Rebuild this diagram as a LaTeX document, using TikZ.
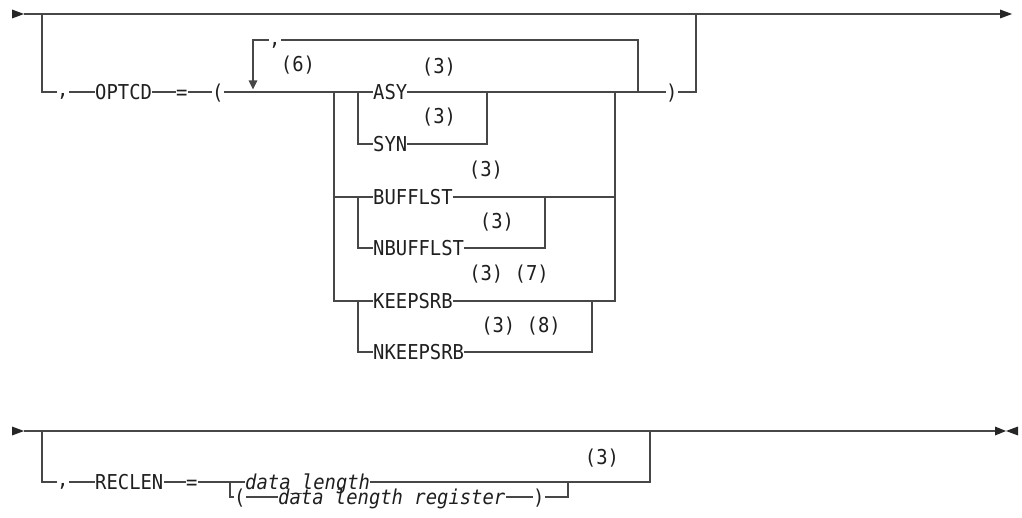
\documentclass[tikz,border=0pt]{standalone}
\usepackage{fontspec}
\newfontfamily\mono[FakeStretch=0.92]{DejaVu Sans Mono}
\usetikzlibrary{arrows.meta}
\begin{document}
\begin{tikzpicture}[x=1pt,y=-1pt,
  rr/.style={draw=black!72,line width=1.1pt},
  tip/.style={fill=black!85},
  kw/.style={anchor=west,inner sep=0pt,text height=15pt,text depth=0pt,text=black!88,font={\mono\fontsize{20.5pt}{22pt}\selectfont}},
  var/.style={kw,font={\mono\itshape\fontsize{20.5pt}{22pt}\selectfont}},
  note/.style={anchor=center,inner sep=0pt,text=black!88,font={\mono\fontsize{20.5pt}{22pt}\selectfont}}]
\useasboundingbox (0,0) rectangle (1022,518);

% ---------- top diagram ----------
\coordinate (s1) at (24,14);
\coordinate (e1) at (1000,14);
\fill[tip] (12,9.5) -- (s1) -- (12,18.5) -- cycle;
\fill[tip] (e1 |- 0,9.5) -- (1012,14) -- (e1 |- 0,18.5) -- cycle;
\draw[rr] (s1) -- (e1);

\coordinate (j1) at (42,14);
\coordinate (j2) at (42,92);
\node[kw] (c1) at (57,89) {,};
\node[kw] (optcd) at (95,92) {OPTCD};
\node[kw] (eq1) at (176,92) {=};
\node[kw] (lp) at (212,92) {(};
\coordinate (ll) at (253,92);
\coordinate (llt) at (253,40);
\coordinate (v1) at (334,92);
\coordinate (v2) at (358,92);
\node[kw] (asy) at (373,92) {ASY};
\coordinate (r1) at (487,92);
\coordinate (r2) at (615,92);
\coordinate (lr) at (638,92);
\coordinate (lrt) at (638,40);
\node[kw] (rp) at (666,92) {)};
\coordinate (r3) at (696,92);
\coordinate (r3t) at (696,14);
\node[kw] (c2) at (269,38) {,};

\draw[rr] (j1) -- (j2) -- (j2 -| c1.west);
\draw[rr] (j2 -| c1.east) -- (optcd.west);
\draw[rr] (optcd.east) -- (eq1.west);
\draw[rr] (eq1.east) -- (lp.west);
\draw[rr] (lp.east) -- (ll) -- (v1) -- (v2) -- (asy.west);
\draw[rr] (asy.east) -- (r1) -- (r2) -- (lr) -- (rp.west);
\draw[rr] (rp.east) -- (r3) -- (r3t);
% repeat loop
\draw[rr] (lr) -- (lrt) -- (lrt -| c2.east);
\draw[rr,-{Triangle[length=9pt,width=8.5pt]},shorten >=2.5pt] (lrt -| c2.west) -- (llt) -- (ll);

% SYN
\coordinate (syl) at (358,144);
\coordinate (syr) at (487,144);
\node[kw] (syn) at (373,144) {SYN};
\draw[rr] (v2) -- (syl) -- (syn.west);
\draw[rr] (syn.east) -- (syr) -- (r1);

% BUFFLST / NBUFFLST
\coordinate (b0) at (334,197);
\coordinate (b1) at (358,197);
\coordinate (b2) at (358,248);
\coordinate (b3) at (545,197);
\coordinate (b4) at (545,248);
\coordinate (b5) at (615,197);
\node[kw] (buf) at (373,197) {BUFFLST};
\node[kw] (nbuf) at (373,248) {NBUFFLST};
\draw[rr] (b0) -- (b1) -- (buf.west);
\draw[rr] (buf.east) -- (b3) -- (b5);
\draw[rr] (b1) -- (b2) -- (nbuf.west);
\draw[rr] (nbuf.east) -- (b4) -- (b3);

% KEEPSRB / NKEEPSRB
\coordinate (k0) at (334,301);
\coordinate (k1) at (358,301);
\coordinate (k2) at (358,352);
\coordinate (k3) at (592,301);
\coordinate (k4) at (592,352);
\coordinate (k5) at (615,301);
\node[kw] (keep) at (373,301) {KEEPSRB};
\node[kw] (nkeep) at (373,352) {NKEEPSRB};
\draw[rr] (v1) -- (k0) -- (k1) -- (keep.west);
\draw[rr] (keep.east) -- (k3) -- (k5) -- (r2);
\draw[rr] (k1) -- (k2) -- (nkeep.west);
\draw[rr] (nkeep.east) -- (k4) -- (k3);

% notes
\node[note] (n6) at (298,65) {(6)};
\node[note] (na) at (439,67) {(3)};
\node[note] (ns) at (439,117) {(3)};
\node[note] (nb) at (486,170) {(3)};
\node[note] (nnb) at (497,222) {(3)};
\node[note] (nk) at (509,274) {(3)~(7)};
\node[note] (nnk) at (521,326) {(3)~(8)};

% ---------- bottom diagram ----------
\coordinate (s2) at (24,431);
\coordinate (e2) at (995,431);
\fill[tip] (12,426.5) -- (s2) -- (12,435.5) -- cycle;
\draw[rr] (s2) -- (e2);
\fill[tip] (e2 |- 0,426.5) -- (1006,431) -- (e2 |- 0,435.5) -- cycle;
\fill[tip] (1018,426.5) -- (1006,431) -- (1018,435.5) -- cycle;

\coordinate (m1) at (42,431);
\coordinate (m2) at (42,482);
\node[kw] (c3) at (57,479) {,};
\node[kw] (reclen) at (95,482) {RECLEN};
\node[kw] (eq2) at (186,482) {=};
\coordinate (d0) at (230,482);
\coordinate (d1) at (230,497);
\node[var] (dl) at (245,482) {data\_length};
\coordinate (d2) at (650,482);
\coordinate (d3) at (650,431);
\node[kw] (lp2) at (234,497) {(};
\node[var] (dlr) at (278,497) {data length register};
\node[kw] (rp2) at (533,497) {)};
\coordinate (d4) at (568,497);
\coordinate (d5) at (568,482);

\draw[rr] (m1) -- (m2) -- (m2 -| c3.west);
\draw[rr] (m2 -| c3.east) -- (reclen.west);
\draw[rr] (reclen.east) -- (eq2.west);
\draw[rr] (eq2.east) -- (d0) -- (dl.west);
\draw[rr] (dl.east) -- (d5) -- (d2) -- (d3);
\draw[rr] (d0) -- (d1) -- (lp2.west);
\draw[rr] (lp2.east) -- (dlr.west);
\draw[rr] (dlr.east) -- (rp2.west);
\draw[rr] (rp2.east) -- (d4) -- (d5);

\node[note] (nr) at (602,458) {(3)};
\end{tikzpicture}
\end{document}
